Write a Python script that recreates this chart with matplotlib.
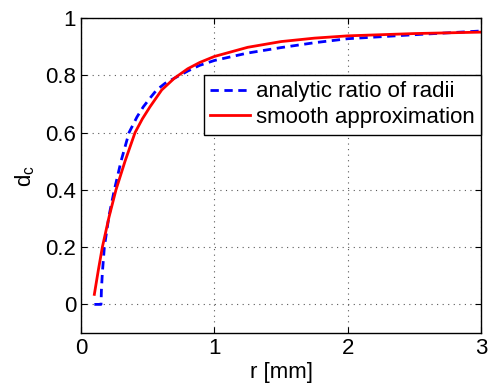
import matplotlib
matplotlib.use("Agg")
from matplotlib import pyplot as plt

# analytic ratio of radii (blue dashed)
r_analytic = [0.10, 0.15, 0.153, 0.16, 0.175, 0.21, 0.25, 0.30, 0.36, 0.42, 0.467,
              0.52, 0.567, 0.63, 0.70, 0.80, 0.89, 1.0, 1.25, 1.5, 1.75, 2.0, 2.5, 3.0]
d_analytic = [0.0, 0.0, 0.05, 0.11, 0.2, 0.31, 0.4, 0.5, 0.6, 0.655, 0.69,
              0.722, 0.749, 0.772, 0.79, 0.815, 0.835, 0.852, 0.878, 0.897, 0.914, 0.928, 0.942, 0.955]

# smooth approximation (red)
r_smooth = [0.10, 0.13, 0.16, 0.21, 0.262, 0.33, 0.405, 0.46, 0.517, 0.605, 0.70,
            0.80, 0.89, 1.0, 1.25, 1.5, 1.75, 2.0, 2.5, 3.0]
d_smooth = [0.035, 0.12, 0.2, 0.305, 0.4, 0.5, 0.6, 0.648, 0.69, 0.749, 0.79,
            0.823, 0.845, 0.866, 0.898, 0.918, 0.93, 0.938, 0.946, 0.951]

plt.rcParams['font.family'] = ['Liberation Sans', 'DejaVu Sans']
plt.rcParams['font.size'] = 16

fig = plt.figure(figsize=(4.88, 3.85), dpi=100)
ax = fig.add_axes([0.166, 0.135, 0.82, 0.818])

ax.plot(r_analytic, d_analytic, color='blue', lw=2, linestyle=(0, (3, 2)),
        label='analytic ratio of radii')
ax.plot(r_smooth, d_smooth, color='red', lw=2, label='smooth approximation')

ax.set_xlim(0, 3)
ax.set_ylim(-0.1, 1)
ax.set_xticks([0, 1, 2, 3])
ax.set_xticklabels(['0', '1', '2', '3'])
ax.set_yticks([0, 0.2, 0.4, 0.6, 0.8, 1])
ax.set_yticklabels(['0', '0.2', '0.4', '0.6', '0.8', '1'])
ax.tick_params(direction='in', length=4, top=True, right=True, width=0.8)
ax.grid(True, linestyle=(0, (1, 4)), color='0.35', linewidth=0.8)
for s in ax.spines.values():
    s.set_linewidth(1.0)

ax.set_xlabel('r [mm]', labelpad=2)
ax.set_ylabel('d$_\\mathregular{c}$', labelpad=6)

leg = ax.legend(loc='upper right', bbox_to_anchor=(1.0, 0.82), borderaxespad=0,
                fancybox=False, framealpha=1, edgecolor='black',
                handlelength=1.8, handletextpad=0.25, labelspacing=0.2,
                borderpad=0.3)
leg.get_frame().set_linewidth(1.0)

fig.savefig('out.png', dpi=100)
